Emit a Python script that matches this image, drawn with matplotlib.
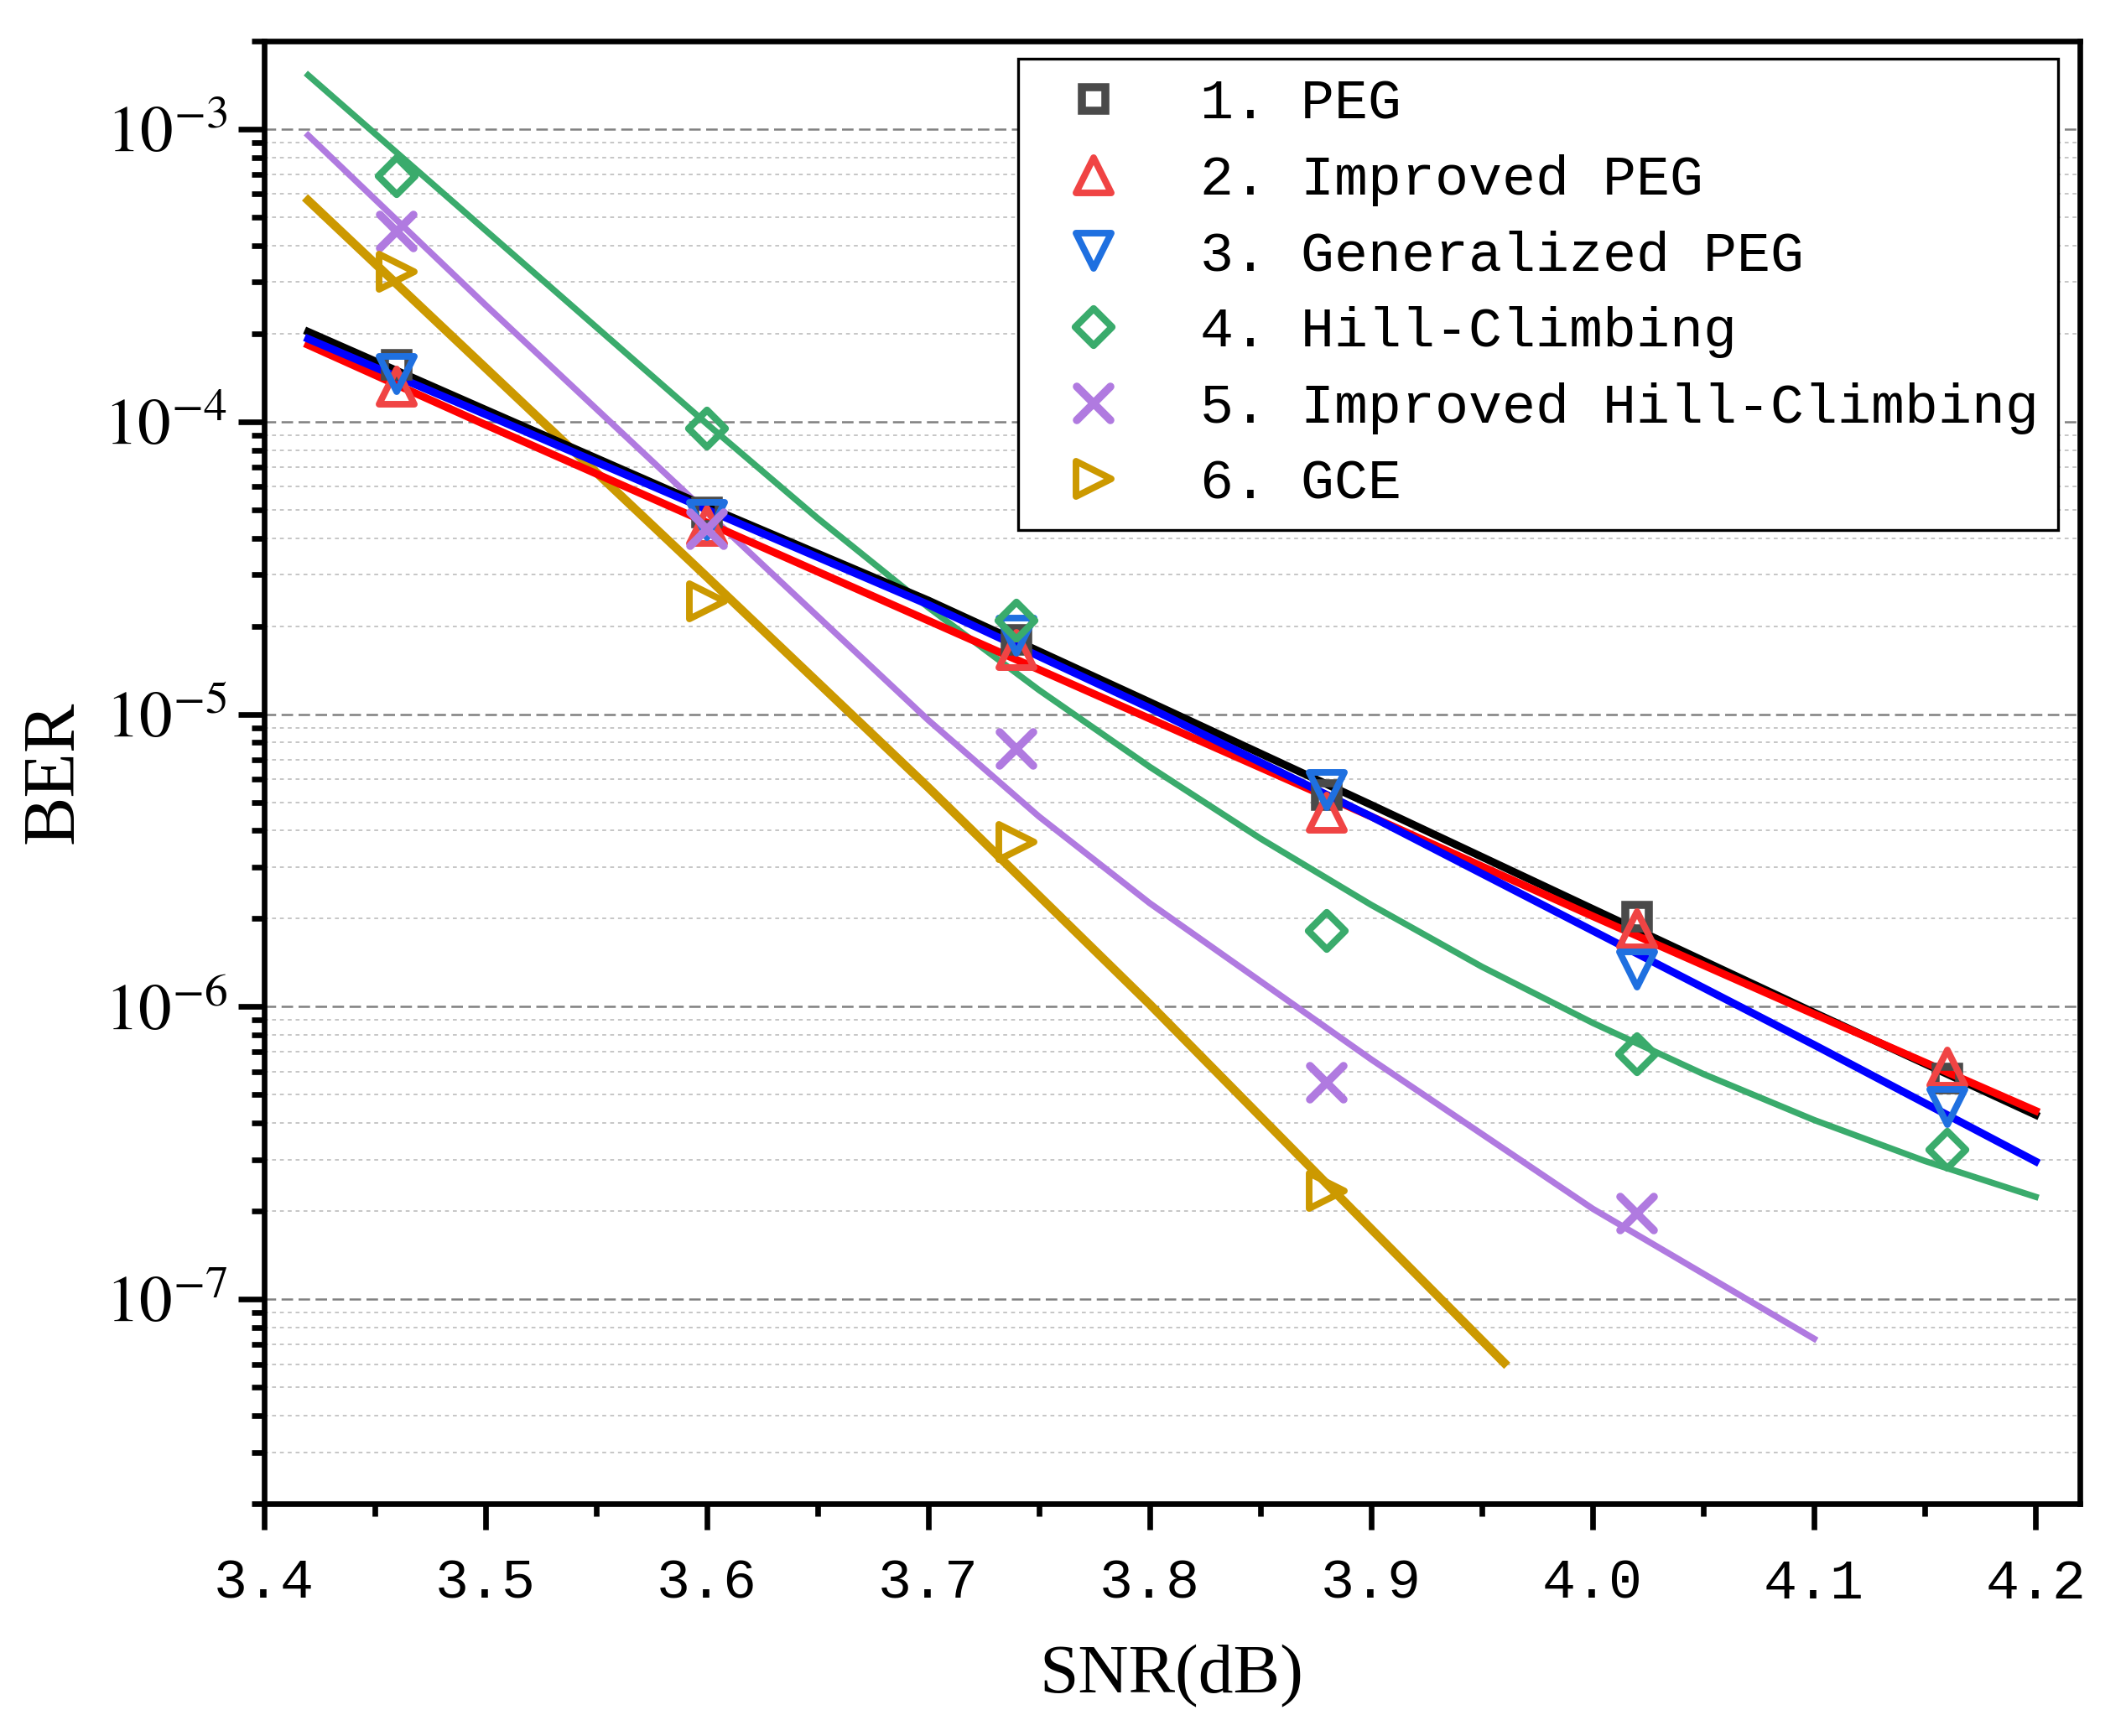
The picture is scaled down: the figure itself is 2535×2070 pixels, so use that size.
import numpy as np
import matplotlib.pyplot as plt
from matplotlib.ticker import MultipleLocator, LogLocator, FuncFormatter, FormatStrFormatter, NullFormatter
from matplotlib.markers import MarkerStyle

plt.rcParams['font.family'] = 'Liberation Serif'
plt.rcParams['mathtext.fontset'] = 'stix'

# измеренные точки (SNR, BER)
snr = [3.46, 3.60, 3.74, 3.88, 4.02, 4.16]
ber_peg = [1.56e-4, 4.9e-5, 1.79e-5, 5.3e-6, 2.03e-6, 5.7e-7]
ber_ipeg = [1.32e-4, 4.4e-5, 1.66e-5, 4.6e-6, 1.84e-6, 6.2e-7]
ber_gpeg = [1.46e-4, 4.6e-5, 1.86e-5, 5.5e-6, 1.34e-6, 4.55e-7]
ber_hc = [6.9e-4, 9.5e-5, 2.09e-5, 1.82e-6, 6.9e-7, 3.25e-7]
ber_ihc = [4.47e-4, 4.3e-5, 7.6e-6, 5.5e-7, 1.96e-7]
ber_gce = [3.25e-4, 2.44e-5, 3.65e-6, 2.35e-7]

# аппроксимирующие кривые
fit_x = [3.42, 3.5, 3.6, 3.7, 3.8, 3.9, 4.0, 4.1, 4.2]
fit_peg = [2.03e-4, 1.10e-4, 5.13e-5, 2.45e-5, 1.10e-5, 4.90e-6, 2.16e-6, 9.55e-7, 4.27e-7]
fit_ipeg = [1.83e-4, 9.77e-5, 4.52e-5, 2.09e-5, 9.66e-6, 4.47e-6, 2.04e-6, 9.44e-7, 4.41e-7]
fit_gpeg = [1.92e-4, 1.06e-4, 5.01e-5, 2.37e-5, 1.05e-5, 4.47e-6, 1.82e-6, 7.41e-7, 2.96e-7]
fit_hc_x = [3.42, 3.5, 3.6, 3.65, 3.7, 3.75, 3.8, 3.85, 3.9, 3.95, 4.0, 4.05, 4.1, 4.15, 4.2]
fit_hc = [1.53e-3, 4.52e-4, 9.84e-5, 4.68e-5, 2.32e-5, 1.21e-5, 6.61e-6, 3.76e-6,
          2.23e-6, 1.37e-6, 8.81e-7, 5.89e-7, 4.10e-7, 2.97e-7, 2.24e-7]
fit_ihc_x = [3.42, 3.5, 3.6, 3.7, 3.75, 3.8, 3.9, 4.0, 4.1]
fit_ihc = [9.53e-4, 2.51e-4, 4.90e-5, 9.55e-6, 4.47e-6, 2.26e-6, 6.61e-7, 2.04e-7, 7.33e-8]
fit_gce_x = [3.42, 3.5, 3.6, 3.7, 3.8, 3.9, 3.96]
fit_gce = [5.71e-4, 1.53e-4, 2.95e-5, 5.62e-6, 1.02e-6, 1.74e-7, 6.07e-8]

labels = ['1. PEG', '2. Improved PEG', '3. Generalized PEG',
          '4. Hill-Climbing', '5. Improved Hill-Climbing', '6. GCE']

fig = plt.figure(figsize=(8.45, 6.9), dpi=300)
ax = fig.add_axes([0.1241, 0.1338, 0.8542, 0.8425])
ax.set_yscale('log')

# кривые
ax.plot(fit_hc_x, fit_hc, color='#3aab6c', lw=1.8, zorder=2)
ax.plot(fit_ihc_x, fit_ihc, color='#b07ae0', lw=1.8, zorder=2)
ax.plot(fit_gce_x, fit_gce, color='#cc9900', lw=2.5, zorder=2)
ax.plot(fit_x, fit_peg, color='black', lw=2.2, zorder=2)
ax.plot(fit_x, fit_ipeg, color='#ff0000', lw=2.2, zorder=2)
ax.plot(fit_x, fit_gpeg, color='#0000ff', lw=2.2, zorder=2)

# точки
mk = dict(ls='none', mfc='none', zorder=3)
ax.plot(snr, ber_peg, marker='s', ms=6.5, mew=2.3, mec='#4a4a4a', label=labels[0], **mk)
ax.plot(snr, ber_ipeg, marker=MarkerStyle('^', joinstyle='round'), ms=10, mew=1.9,
        mec='#f04444', label=labels[1], **mk)
ax.plot(snr, ber_gpeg, marker=MarkerStyle('v', joinstyle='round'), ms=10, mew=1.9,
        mec='#1f70e0', label=labels[2], **mk)
ax.plot(snr, ber_hc, marker=MarkerStyle('D', joinstyle='round'), ms=7.3, mew=2.0,
        mec='#3aab6c', label=labels[3], **mk)
ax.plot(snr[:5], ber_ihc, marker=MarkerStyle('x', capstyle='round'), ms=9.5, mew=2.3,
        mec='#b07ae0', label=labels[4], **mk)
ax.plot(snr[:4], ber_gce, marker=MarkerStyle('>', joinstyle='round'), ms=10, mew=1.9,
        mec='#cc9900', label=labels[5], **mk)

ax.set_xlim(3.4, 4.22)
ax.set_ylim(2e-8, 2e-3)

ax.xaxis.set_major_locator(MultipleLocator(0.1))
ax.xaxis.set_minor_locator(MultipleLocator(0.05))
ax.xaxis.set_major_formatter(FormatStrFormatter('%.1f'))
ax.yaxis.set_major_locator(LogLocator(base=10, numticks=20))
ax.yaxis.set_minor_locator(LogLocator(base=10, subs=np.arange(2, 10), numticks=50))
ax.yaxis.set_major_formatter(FuncFormatter(lambda v, p: r'$10^{%d}$' % round(np.log10(v))))
ax.yaxis.set_minor_formatter(NullFormatter())

ax.yaxis.grid(True, which='major', color='#808080', lw=0.6, ls=(0, (5.5, 2.6)))
ax.yaxis.grid(True, which='minor', color='#c4c4c4', lw=0.45, ls=(0, (2.5, 2.5)))
ax.set_axisbelow(True)

for s in ax.spines.values():
    s.set_linewidth(1.6)
ax.tick_params(which='major', direction='out', length=7.5, width=1.6, top=False, right=False)
ax.tick_params(which='minor', direction='out', length=3.5, width=1.6, top=False, right=False)
ax.tick_params(axis='x', which='major', pad=8, labelsize=16, labelfontfamily='Liberation Mono')
ax.tick_params(axis='y', which='major', pad=3, labelsize=19)

ax.set_xlabel('SNR(dB)', fontsize=20, labelpad=10)
ax.set_ylabel('BER', fontsize=21, labelpad=4.5)

leg = ax.legend(loc='upper right', bbox_to_anchor=(0.988, 0.988), borderaxespad=0,
                prop={'family': 'Liberation Mono', 'size': 16}, fancybox=False,
                edgecolor='black', framealpha=1, borderpad=0.35, labelspacing=0.43,
                handlelength=2.0, handletextpad=0.9, numpoints=1)
leg.get_frame().set_linewidth(0.8)

fig.savefig('out.png', dpi=300)
